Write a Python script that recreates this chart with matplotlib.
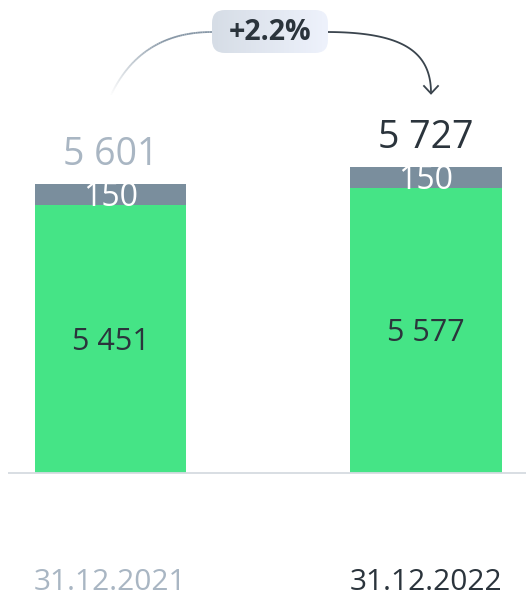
import numpy as np
import matplotlib
matplotlib.use('Agg')
import matplotlib.pyplot as plt
from matplotlib.patches import FancyBboxPatch
from matplotlib.collections import LineCollection

plt.rcParams['font.family'] = ['Open Sans', 'DejaVu Sans']

# data
dates = ['31.12.2021', '31.12.2022']
main_part = [5451, 5577]
other_part = [150, 150]
change_label = '+2.2%'

totals = [m + o for m, o in zip(main_part, other_part)]
label_colors = ['#a9b6c3', '#2b343c']
green = '#45e486'
grey = '#7a8e9d'
dark = '#2b343c'

W, H = 526, 597
fig = plt.figure(figsize=(W / 100, H / 100), dpi=100)

# bars axis: bottom edge sits on the baseline
base_px = 124
ax = fig.add_axes([0, base_px / H, 1, (H - base_px) / H])
ax.set_xlim(-0.3502, 1.317)
ax.set_ylim(3524, 6927)
ax.axis('off')

x = np.arange(len(dates))
ax.bar(x, main_part, width=0.479, color=green, zorder=2)
ax.bar(x, other_part, bottom=main_part, width=0.479, color=grey, zorder=2)

y0 = ax.get_ylim()[0]
for i in range(len(dates)):
    # value inside the green part (visible portion centre)
    mid = (y0 + main_part[i]) / 2
    ax.annotate(f'{main_part[i]:,}'.replace(',', ' '), (x[i], mid),
                xytext=(0, -0.357 * 22), textcoords='offset points',
                ha='center', va='baseline', fontsize=22, color=dark, zorder=3)
    # small part
    mid2 = main_part[i] + other_part[i] / 2
    ax.annotate(str(other_part[i]), (x[i], mid2),
                xytext=(0, -0.357 * 23), textcoords='offset points',
                ha='center', va='baseline', fontsize=23, color='white', zorder=3)
    # total above
    ax.annotate(f'{totals[i]:,}'.replace(',', ' '), (x[i], totals[i]),
                xytext=(0, 13.7), textcoords='offset points',
                ha='center', va='baseline', fontsize=27, color=label_colors[i])
    # date label under the axis
    ax.annotate(dates[i], (x[i], 0), xycoords=('data', 'figure pixels'),
                xytext=(0, 7), textcoords='offset pixels',
                ha='center', va='baseline', fontsize=21.5, color=label_colors[i],
                annotation_clip=False)

# overlay in pixel coordinates for the decorations
ov = fig.add_axes([0, 0, 1, 1], zorder=5)
ov.set_xlim(0, W)
ov.set_ylim(H, 0)
ov.axis('off')
ov.patch.set_alpha(0)

# baseline
ov.plot([8, W], [473, 473], color='#d5dbe1', lw=1.3, solid_capstyle='butt')

# left arc, fading out towards the bar
t = np.linspace(0, 1, 60)
p0, c, p1 = np.array([110, 97]), np.array([140, 32]), np.array([212, 32])
pts = ((1 - t) ** 2)[:, None] * p0 + (2 * (1 - t) * t)[:, None] * c + (t ** 2)[:, None] * p1
segs = np.stack([pts[:-1], pts[1:]], axis=1)
cols = np.zeros((len(segs), 4))
cols[:, :3] = matplotlib.colors.to_rgb('#8797a6')
cols[:, 3] = np.clip(np.linspace(0, 1.6, len(segs)), 0, 1)
ov.add_collection(LineCollection(segs, colors=cols, linewidths=1.3))

# right arc with arrow head
q0, q1, q2, q3 = (np.array([326, 32]), np.array([400, 32]),
                  np.array([431, 50]), np.array([431, 93]))
pts = (((1 - t) ** 3)[:, None] * q0 + (3 * (1 - t) ** 2 * t)[:, None] * q1
       + (3 * (1 - t) * t ** 2)[:, None] * q2 + (t ** 3)[:, None] * q3)
ov.plot(pts[:, 0], pts[:, 1], color='#3a444d', lw=1.3)
ov.plot([424, 431, 438], [86, 93.5, 86], color='#3a444d', lw=1.3,
        solid_joinstyle='miter')

# badge with soft gradient
box = FancyBboxPatch((212, 10), 116, 43, boxstyle='round,pad=0,rounding_size=13',
                     facecolor='none', edgecolor='none', zorder=6)
ov.add_patch(box)
grad = np.linspace(0, 1, 100)[None, :]
cmap = matplotlib.colors.LinearSegmentedColormap.from_list('b', ['#d6dde6', '#eef2fc'])
im = ov.imshow(grad, extent=(212, 328, 53, 10), cmap=cmap, aspect='auto',
               zorder=6, interpolation='bilinear')
im.set_clip_path(box)
ov.set_xlim(0, W)
ov.set_ylim(H, 0)
ov.text(270, 32, change_label, ha='center', va='center', fontsize=20.5,
        fontweight='bold', color=dark, zorder=7)

fig.savefig('out.png', dpi=100)
